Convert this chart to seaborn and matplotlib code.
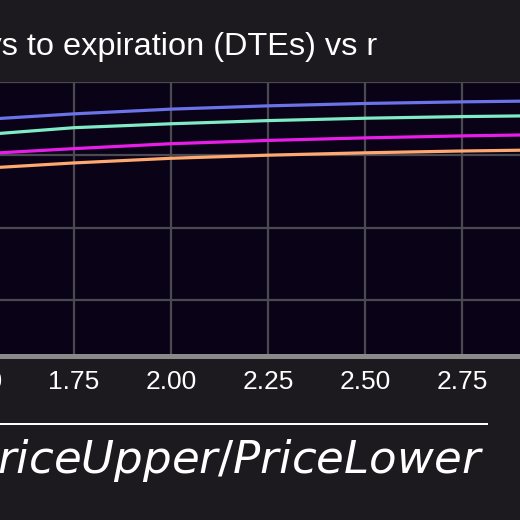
import pandas as pd
import seaborn as sns
import matplotlib.pyplot as plt

# sqrt(PriceUpper/PriceLower) values where curves were read
r_values = [1.5, 1.75, 2.0, 2.25, 2.5, 2.75, 3.0]

# one curve per DTE (y labels are not visible)
dte_labels = ['DTE 1', 'DTE 2', 'DTE 3', 'DTE 4']
dte_1 = [0.696, 0.7125, 0.7255, 0.7345, 0.741, 0.7455, 0.7485]
dte_2 = [0.654, 0.6745, 0.6853, 0.694, 0.7005, 0.705, 0.708]
dte_3 = [0.602, 0.617, 0.6305, 0.6395, 0.6465, 0.652, 0.656]
dte_4 = [0.562, 0.5777, 0.5905, 0.599, 0.6055, 0.6105, 0.614]

x_ticks = [1.5, 1.75, 2.0, 2.25, 2.5, 2.75, 3.0]
y_ticks = [0.2, 0.4, 0.6, 0.8]

colors = ['#6c72e8', '#80ecc6', '#e81ee8', '#ffa870']

# long-form frame for seaborn
rows = []
for label, vals in zip(dte_labels, [dte_1, dte_2, dte_3, dte_4]):
    for r, v in zip(r_values, vals):
        rows.append({'r': r, 'value': v, 'DTE': label})
df = pd.DataFrame(rows)

sns.set_theme(style='darkgrid', rc={
    'figure.facecolor': '#1c1a1f',
    'axes.facecolor': '#0a0318',
    'grid.color': '#4b4a50',
    'grid.linewidth': 1.6,
    'text.color': 'white',
    'xtick.color': 'white',
    'ytick.color': 'white',
})
plt.rcParams['font.family'] = ['Liberation Sans', 'DejaVu Sans']

fig = plt.figure(figsize=(5.2, 5.2), dpi=100)
# the picture is a crop of a bigger chart, so the axes run past the edges
ax = fig.add_axes([-120 / 520, (520 - 356) / 520, 679 / 520, 274 / 520])

sns.lineplot(data=df, x='r', y='value', hue='DTE', palette=colors,
             linewidth=2.3, legend=False, ax=ax)

ax.set_xlim(1.25, 3.0)
ax.set_ylim(0.0474, 0.785)
ax.set_xticks(x_ticks)
ax.set_xticklabels([f'{t:.2f}' for t in x_ticks])
ax.set_yticks(y_ticks)
ax.set_yticklabels([])
ax.tick_params(axis='x', length=0, pad=10, labelsize=19)
ax.tick_params(axis='y', length=0)
ax.set_xlabel('')
ax.set_ylabel('')

for side in ['top', 'right', 'left']:
    ax.spines[side].set_visible(False)
ax.spines['bottom'].set_visible(True)
ax.spines['bottom'].set_color('#8a8a8a')
ax.spines['bottom'].set_linewidth(3.6)

fig.text(377 / 520, 1 - 55 / 520, 'Return vs days to expiration (DTEs) vs r',
         ha='right', va='baseline', fontsize=23.4, color='white')
fig.text(487 / 520, 1 - 474 / 520, r'$\sqrt{PriceUpper/PriceLower}$',
         ha='right', va='baseline', fontsize=32.5, color='white',
         family='DejaVu Sans')

fig.savefig('out.png', dpi=100, facecolor=fig.get_facecolor())
